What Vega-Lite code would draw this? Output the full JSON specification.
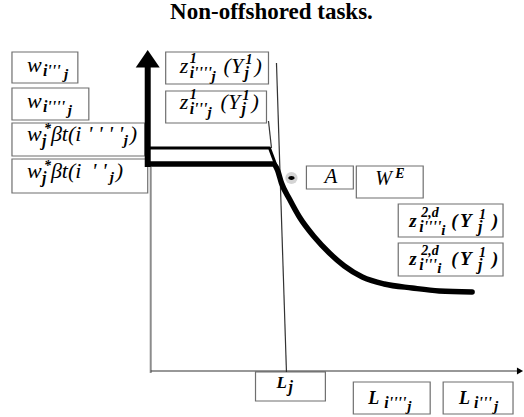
{
  "$schema": "https://vega.github.io/schema/vega-lite/v6.json",
  "width": 524,
  "height": 417,
  "autosize": {"type": "fit", "contains": "padding"},
  "padding": 0,
  "background": "white",
  "config": {"view": {"stroke": null}},
  "datasets": {
    "boxes": [
      {"x": -139, "x2": -73, "y": 320, "y2": 289},
      {"x": -139, "x2": -62, "y": 284, "y2": 252},
      {"x": -139, "x2": -6, "y": 249, "y2": 216},
      {"x": -139, "x2": -3, "y": 213, "y2": 179},
      {"x": 15, "x2": 118, "y": 320, "y2": 288},
      {"x": 15, "x2": 116, "y": 281, "y2": 249},
      {"x": 156, "x2": 203, "y": 206, "y2": 183},
      {"x": 206, "x2": 273, "y": 206, "y2": 174},
      {"x": 248, "x2": 353, "y": 168, "y2": 135},
      {"x": 248, "x2": 353, "y": 129, "y2": 96},
      {"x": 105, "x2": 175, "y": 0, "y2": -29},
      {"x": 203, "x2": 280, "y": -10, "y2": -42},
      {"x": 293, "x2": 363, "y": -10, "y2": -42}
    ],
    "lines": [
      {"seg": "yk", "o": 1, "x": -3, "y": 309},
      {"seg": "yk", "o": 2, "x": -3, "y": 205},
      {"seg": "yt", "o": 1, "x": 0, "y": 205},
      {"seg": "yt", "o": 2, "x": 0, "y": -1},
      {"seg": "xa", "o": 1, "x": 0, "y": 1},
      {"seg": "xa", "o": 2, "x": 368, "y": 1},
      {"seg": "lj", "o": 1, "x": 126, "y": 309},
      {"seg": "lj", "o": 2, "x": 136, "y": 0},
      {"seg": "sh", "o": 1, "x": 118, "y": 251},
      {"seg": "sh", "o": 2, "x": 121, "y": 224},
      {"seg": "up", "o": 1, "x": -1, "y": 224},
      {"seg": "up", "o": 2, "x": 119, "y": 224},
      {"seg": "up", "o": 3, "x": 125, "y": 208},
      {"seg": "up", "o": 4, "x": 131, "y": 190},
      {"seg": "lo", "o": 1, "x": -1, "y": 208},
      {"seg": "lo", "o": 2, "x": 123, "y": 208},
      {"seg": "lo", "o": 3, "x": 127, "y": 202},
      {"seg": "lo", "o": 4, "x": 131, "y": 189},
      {"seg": "lo", "o": 5, "x": 139, "y": 173},
      {"seg": "lo", "o": 6, "x": 149, "y": 155},
      {"seg": "lo", "o": 7, "x": 164, "y": 135},
      {"seg": "lo", "o": 8, "x": 179, "y": 119},
      {"seg": "lo", "o": 9, "x": 194, "y": 106},
      {"seg": "lo", "o": 10, "x": 212, "y": 95},
      {"seg": "lo", "o": 11, "x": 234, "y": 88},
      {"seg": "lo", "o": 12, "x": 262, "y": 84},
      {"seg": "lo", "o": 13, "x": 289, "y": 81},
      {"seg": "lo", "o": 14, "x": 322, "y": 80}
    ],
    "heads": [
      {"dir": "up", "x": -3, "y": 313},
      {"dir": "right", "x": 370, "y": 1}
    ],
    "labels": [
      {"role": "main", "x": -124, "y": 300, "t": "w"},
      {"role": "sub", "x": -108, "y": 296, "t": "i'''"},
      {"role": "subsub", "x": -87, "y": 293, "t": "j"},
      {"role": "main", "x": -124, "y": 264, "t": "w"},
      {"role": "sub", "x": -108, "y": 260, "t": "i''''"},
      {"role": "subsub", "x": -83, "y": 257, "t": "j"},
      {"role": "main", "x": -124, "y": 231, "t": "w"},
      {"role": "sub", "x": -109, "y": 226, "t": "j"},
      {"role": "sup", "x": -107, "y": 239, "t": "*"},
      {"role": "main", "x": -100, "y": 231, "t": "βt(i"},
      {"role": "main", "x": -63, "y": 231, "t": "' ' ' '"},
      {"role": "subsub", "x": -27, "y": 227, "t": "j"},
      {"role": "main", "x": -21, "y": 231, "t": ")"},
      {"role": "main", "x": -124, "y": 194, "t": "w"},
      {"role": "sub", "x": -109, "y": 189, "t": "j"},
      {"role": "sup", "x": -107, "y": 202, "t": "*"},
      {"role": "main", "x": -100, "y": 194, "t": "βt(i"},
      {"role": "main", "x": -59, "y": 194, "t": "' '"},
      {"role": "subsub", "x": -41, "y": 190, "t": "j"},
      {"role": "main", "x": -35, "y": 194, "t": ")"},
      {"role": "main", "x": 29, "y": 299, "t": "z"},
      {"role": "sup", "x": 39, "y": 309, "t": "1"},
      {"role": "sub", "x": 39, "y": 294, "t": "i''''"},
      {"role": "subsub", "x": 61, "y": 291, "t": "j"},
      {"role": "main", "x": 73, "y": 299, "t": "(Y"},
      {"role": "sup", "x": 95, "y": 308, "t": "1"},
      {"role": "sub", "x": 94, "y": 294, "t": "j"},
      {"role": "main", "x": 104, "y": 299, "t": ")"},
      {"role": "main", "x": 29, "y": 263, "t": "z"},
      {"role": "sup", "x": 39, "y": 273, "t": "1"},
      {"role": "sub", "x": 39, "y": 258, "t": "i'''"},
      {"role": "subsub", "x": 57, "y": 255, "t": "j"},
      {"role": "main", "x": 70, "y": 263, "t": "(Y"},
      {"role": "sup", "x": 92, "y": 272, "t": "1"},
      {"role": "sub", "x": 91, "y": 258, "t": "j"},
      {"role": "main", "x": 101, "y": 263, "t": ")"},
      {"role": "pt", "x": 174, "y": 189, "t": "A"},
      {"role": "we", "x": 225, "y": 187, "t": "W"},
      {"role": "sup", "x": 245, "y": 194, "t": "E"},
      {"role": "mainbold", "x": 259, "y": 145, "t": "z"},
      {"role": "sup", "x": 271, "y": 155, "t": "2,d"},
      {"role": "sub", "x": 269, "y": 140, "t": "i''''"},
      {"role": "subsub", "x": 291, "y": 137, "t": "i"},
      {"role": "mainbold", "x": 301, "y": 145, "t": "("},
      {"role": "mainbold", "x": 310, "y": 145, "t": "Y"},
      {"role": "sup", "x": 329, "y": 153, "t": "1"},
      {"role": "sub", "x": 328, "y": 140, "t": "j"},
      {"role": "mainbold", "x": 342, "y": 145, "t": ")"},
      {"role": "mainbold", "x": 259, "y": 107, "t": "z"},
      {"role": "sup", "x": 271, "y": 117, "t": "2,d"},
      {"role": "sub", "x": 269, "y": 102, "t": "i'''"},
      {"role": "subsub", "x": 287, "y": 99, "t": "i"},
      {"role": "mainbold", "x": 301, "y": 107, "t": "("},
      {"role": "mainbold", "x": 310, "y": 107, "t": "Y"},
      {"role": "sup", "x": 329, "y": 115, "t": "1"},
      {"role": "sub", "x": 328, "y": 102, "t": "j"},
      {"role": "mainbold", "x": 342, "y": 107, "t": ")"},
      {"role": "Lsmall", "x": 126, "y": -16, "t": "L"},
      {"role": "sub", "x": 138, "y": -20, "t": "j"},
      {"role": "Lbig", "x": 218, "y": -32, "t": "L"},
      {"role": "sub", "x": 234, "y": -36, "t": "i''''"},
      {"role": "subsub", "x": 257, "y": -39, "t": "j"},
      {"role": "Lbig", "x": 309, "y": -32, "t": "L"},
      {"role": "sub", "x": 324, "y": -36, "t": "i'''"},
      {"role": "subsub", "x": 344, "y": -39, "t": "j"}
    ],
    "title": [
      {"x": 121, "y": 353, "t": "Non-offshored tasks."}
    ]
  },
  "encoding": {
    "x": {"field": "x", "type": "quantitative", "scale": {"domain": [-151, 373], "nice": false, "zero": false}, "axis": null},
    "y": {"field": "y", "type": "quantitative", "scale": {"domain": [-45, 372], "nice": false, "zero": false}, "axis": null}
  },
  "layer": [
    {
      "data": {"name": "boxes"},
      "mark": {"type": "rect", "fill": "white", "stroke": "#6f6f6f", "strokeWidth": 1.2},
      "encoding": {
        "x2": {"field": "x2"},
        "y2": {"field": "y2"}
      }
    },
    {
      "data": {"name": "lines"},
      "transform": [{"filter": "datum.seg === 'yt'"}],
      "mark": {"type": "line", "color": "#8c8c8c", "strokeWidth": 2},
      "encoding": {"order": {"field": "o"}}
    },
    {
      "data": {"name": "lines"},
      "transform": [{"filter": "datum.seg === 'xa' || datum.seg === 'lj' || datum.seg === 'sh'"}],
      "mark": {"type": "line", "color": "#333333", "strokeWidth": 1.2},
      "encoding": {"order": {"field": "o"}, "detail": {"field": "seg"}}
    },
    {
      "data": {"name": "lines"},
      "transform": [{"filter": "datum.seg === 'yk'"}],
      "mark": {"type": "line", "color": "black", "strokeWidth": 6},
      "encoding": {"order": {"field": "o"}}
    },
    {
      "data": {"name": "lines"},
      "transform": [{"filter": "datum.seg === 'up'"}],
      "mark": {"type": "line", "color": "black", "strokeWidth": 3, "strokeJoin": "round"},
      "encoding": {"order": {"field": "o"}}
    },
    {
      "data": {"name": "lines"},
      "transform": [{"filter": "datum.seg === 'lo'"}],
      "mark": {"type": "line", "color": "black", "strokeWidth": 5.5, "strokeJoin": "round", "strokeCap": "round", "interpolate": "monotone"},
      "encoding": {"order": {"field": "o"}}
    },
    {
      "data": {"name": "heads"},
      "transform": [{"filter": "datum.dir === 'up'"}],
      "mark": {"type": "point", "shape": "M0,-0.75L-1,0.7L1,0.7Z", "filled": true, "color": "black", "opacity": 1, "size": 576}
    },
    {
      "data": {"name": "heads"},
      "transform": [{"filter": "datum.dir === 'right'"}],
      "mark": {"type": "point", "shape": "triangle-right", "filled": true, "color": "black", "opacity": 1, "size": 50}
    },
    {
      "data": {"values": [{"x": 141, "y": 194}]},
      "layer": [
        {"mark": {"type": "point", "shape": "circle", "filled": true, "color": "#d4d4d4", "opacity": 1, "size": 150}},
        {"mark": {"type": "point", "shape": "M-1,0A1,0.6 0 1,0 1,0A1,0.6 0 1,0 -1,0Z", "filled": true, "color": "black", "opacity": 1, "size": 40}}
      ]
    },
    {
      "data": {"name": "labels"},
      "transform": [{"filter": "datum.role === 'main' || datum.role === 'pt' || datum.role === 'we'"}],
      "mark": {"type": "text", "font": "Liberation Serif", "fontStyle": "italic", "align": "left", "baseline": "alphabetic", "color": "black"},
      "encoding": {
        "text": {"field": "t"},
        "size": {"field": "role", "type": "nominal", "legend": null, "scale": {"domain": ["main", "pt", "we"], "range": [22, 14, 17]}}
      }
    },
    {
      "data": {"name": "labels"},
      "transform": [{"filter": "datum.role !== 'main' && datum.role !== 'pt' && datum.role !== 'we'"}],
      "mark": {"type": "text", "font": "Liberation Serif", "fontStyle": "italic", "fontWeight": "bold", "align": "left", "baseline": "alphabetic", "color": "black"},
      "encoding": {
        "text": {"field": "t"},
        "size": {"field": "role", "type": "nominal", "legend": null, "scale": {"domain": ["mainbold", "Lbig", "Lsmall", "sub", "subsub", "sup"], "range": [21, 22, 17, 15, 11, 12]}}
      }
    },
    {
      "data": {"name": "title"},
      "mark": {"type": "text", "font": "Liberation Serif", "fontWeight": "bold", "fontSize": 23, "align": "center", "baseline": "alphabetic", "color": "black"},
      "encoding": {"text": {"field": "t"}}
    }
  ]
}
